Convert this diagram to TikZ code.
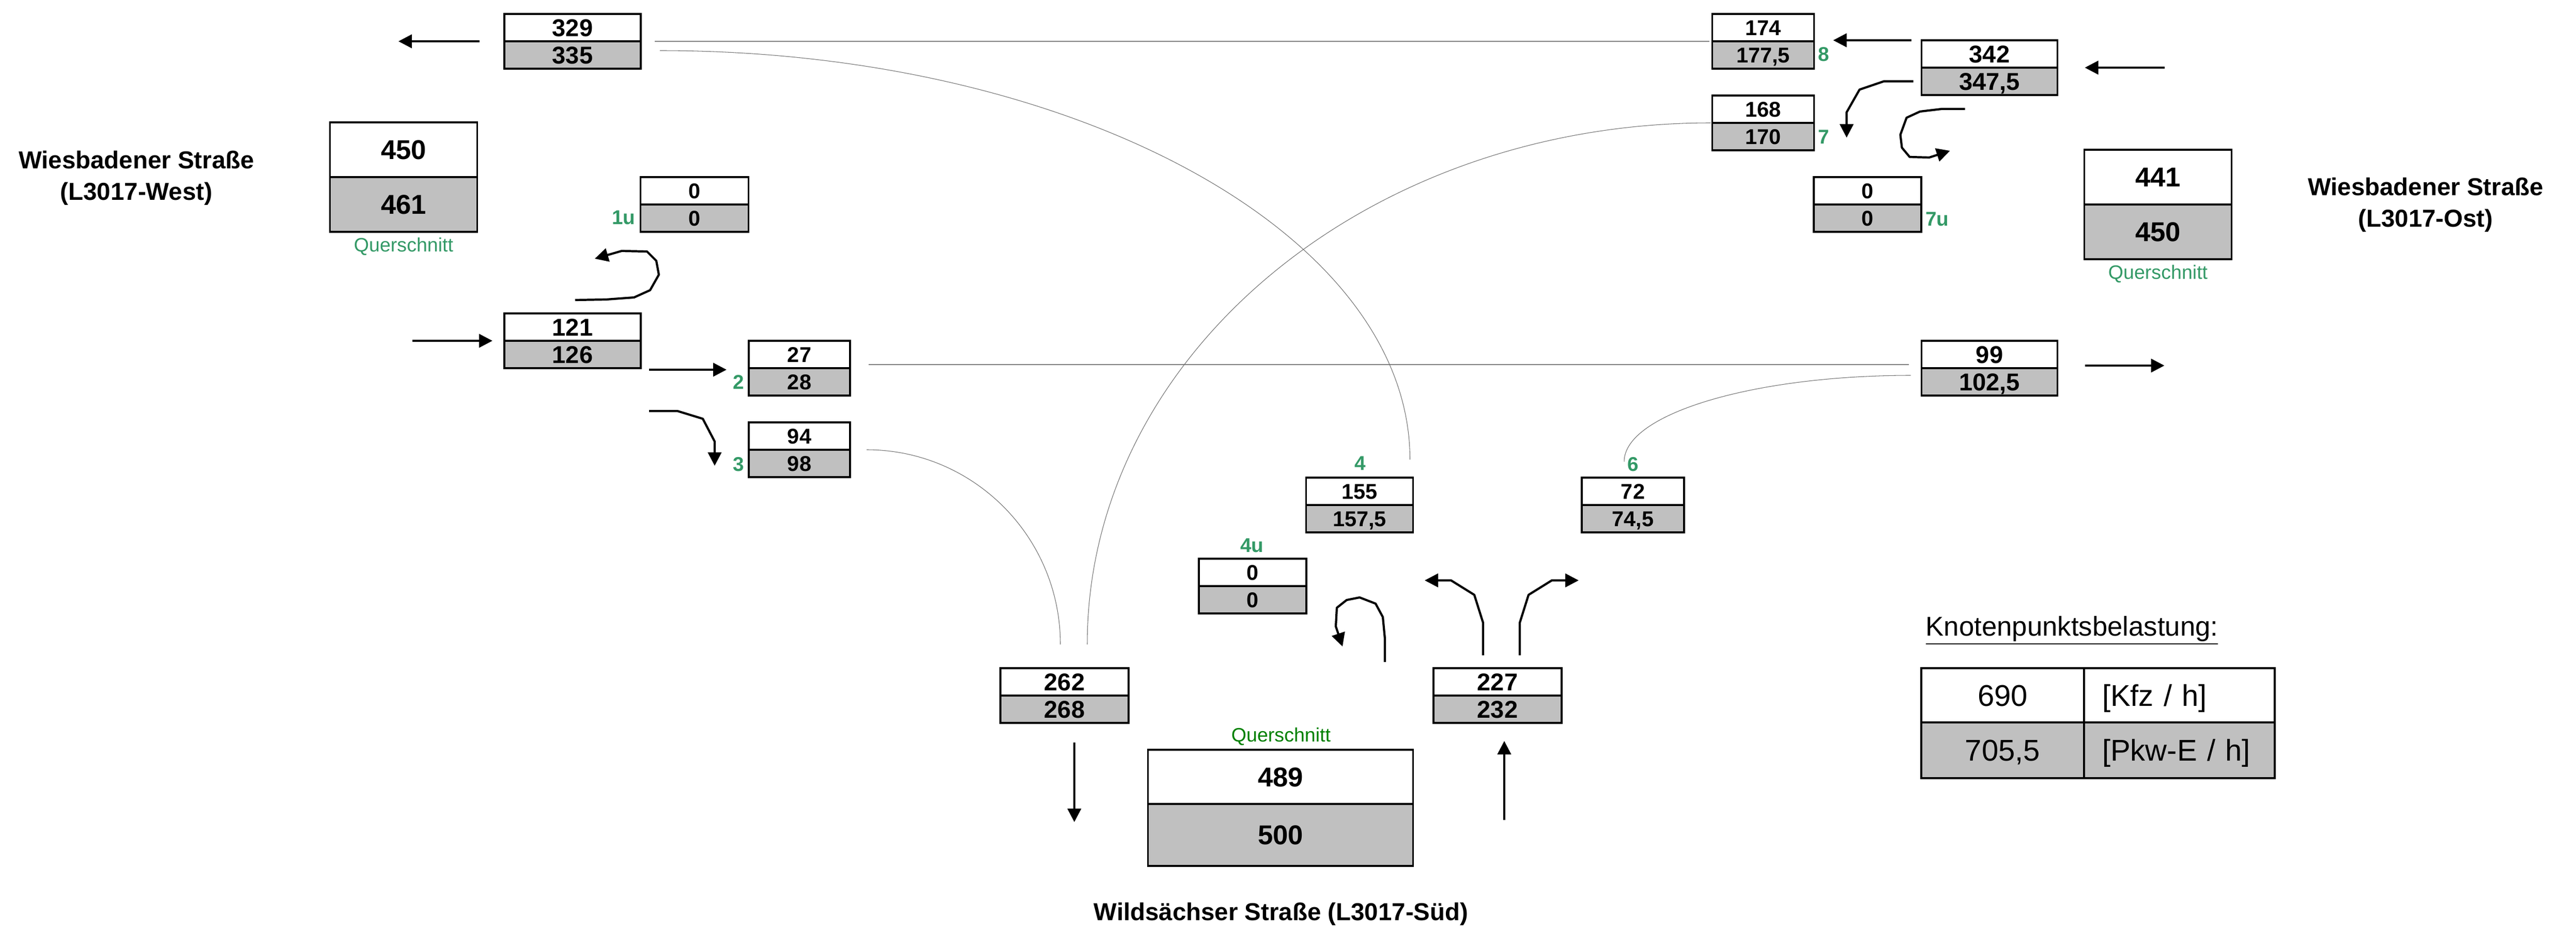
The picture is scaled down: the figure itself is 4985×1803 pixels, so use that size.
\documentclass[tikz,border=0pt]{standalone}
\usepackage{fontspec}
\setmainfont{Liberation Sans}
\usetikzlibrary{positioning,arrows.meta}
\definecolor{kgrau}{HTML}{C0C0C0}
\definecolor{nrgruen}{HTML}{339966}
\definecolor{qgruen}{HTML}{008000}
\definecolor{strichgrau}{HTML}{808080}
\newcommand{\schrift}[1]{\fontsize{#1}{#1}\selectfont}
\tikzset{
  zelle/.style={draw, line width=0.9pt, inner sep=0pt, outer sep=0pt, minimum height=5.3mm, font=\bfseries\schrift{13.4}, text height=9.6pt, text depth=0pt},
  kfz/.style={zelle, fill=white},
  pkw/.style={zelle, fill=kgrau},
  schmal/.style={font=\bfseries\schrift{11.8}, text height=8.4pt},
  gross/.style={minimum height=10.6mm, font=\bfseries\schrift{15}, text height=10.7pt},
  legzelle/.style={draw, line width=0.9pt, inner sep=0pt, outer sep=0pt, font=\schrift{16.5}, text height=11.8pt, text depth=0pt},
  nr/.style={text=nrgruen, font=\bfseries\schrift{11}, inner sep=0pt},
  quer/.style={text=nrgruen, font=\schrift{10.7}, inner sep=0pt},
  strasse/.style={font=\bfseries\fontsize{13.5}{17.3}\selectfont, align=center, inner sep=0pt},
  fahrt/.style={->, line width=1.2pt, line join=round},
  strom/.style={strichgrau, line width=0.57pt},
  bogen/.style={strichgrau!85!black, line width=0.3pt},
  >={Triangle[length=2.6mm,width=2.6mm]}
}
\begin{document}
\begin{tikzpicture}[x=0.1mm,y=-0.1mm]
            \useasboundingbox (0,0) rectangle (4985,1803);
            \node[strasse] (west) at (264,345) {Wiesbadener Straße\\(L3017-West)};
            \node[kfz,gross,minimum width=28.5mm] (qwk) at (781,290) {450};
            \node[pkw,gross,minimum width=28.5mm,below=0pt of qwk] (qwp) {461};
            \node[quer] (qwt) at (781,477) {Querschnitt};
            \node[kfz,minimum width=26.4mm] (wabk) at (1108,53.5) {329};
            \node[pkw,minimum width=26.4mm,below=0pt of wabk] (wabp) {335};
            \node[kfz,minimum width=26.4mm] (wzuk) at (1108,633.5) {121};
            \node[pkw,minimum width=26.4mm,below=0pt of wzuk] (wzup) {126};
            \node[kfz,schmal,minimum width=20.9mm] (s1uk) at (1344,369.5) {0};
            \node[pkw,schmal,minimum width=20.9mm,below=0pt of s1uk] (s1up) {0};
            \node[nr] (n1u) at (1207,421) {1u};
            \node[kfz,schmal,minimum width=19.6mm] (s2k) at (1547,686.5) {27};
            \node[pkw,schmal,minimum width=19.6mm,below=0pt of s2k] (s2p) {28};
            \node[nr] (n2) at (1429,740) {2};
            \node[kfz,schmal,minimum width=19.6mm] (s3k) at (1547,844.5) {94};
            \node[pkw,schmal,minimum width=19.6mm,below=0pt of s3k] (s3p) {98};
            \node[nr] (n3) at (1429,899) {3};
            \node[kfz,schmal,minimum width=19.7mm] (s8k) at (3412,53.5) {174};
            \node[pkw,schmal,minimum width=19.7mm,below=0pt of s8k] (s8p) {177,5};
            \node[nr] (n8) at (3529,105) {8};
            \node[kfz,schmal,minimum width=19.7mm] (s7k) at (3412,211.5) {168};
            \node[pkw,schmal,minimum width=19.7mm,below=0pt of s7k] (s7p) {170};
            \node[nr] (n7) at (3529,265) {7};
            \node[kfz,minimum width=26.3mm] (ozuk) at (3850,104.5) {342};
            \node[pkw,minimum width=26.3mm,below=0pt of ozuk] (ozup) {347,5};
            \node[kfz,schmal,minimum width=20.8mm] (s7uk) at (3614,369.5) {0};
            \node[pkw,schmal,minimum width=20.8mm,below=0pt of s7uk] (s7up) {0};
            \node[nr] (n7u) at (3749,424) {7u};
            \node[kfz,gross,minimum width=28.5mm] (qok) at (4176,343) {441};
            \node[pkw,gross,minimum width=28.5mm,below=0pt of qok] (qop) {450};
            \node[quer] (qot) at (4176,530) {Querschnitt};
            \node[strasse] (ost) at (4694,397) {Wiesbadener Straße\\(L3017-Ost)};
            \node[kfz,minimum width=26.3mm] (oabk) at (3850,686.5) {99};
            \node[pkw,minimum width=26.3mm,below=0pt of oabk] (oabp) {102,5};
            \node[kfz,schmal,minimum width=20.7mm] (s4k) at (2631,951.5) {155};
            \node[pkw,schmal,minimum width=20.7mm,below=0pt of s4k] (s4p) {157,5};
            \node[nr] (n4) at (2632,897) {4};
            \node[kfz,schmal,minimum width=19.8mm] (s6k) at (3160,951.5) {72};
            \node[pkw,schmal,minimum width=19.8mm,below=0pt of s6k] (s6p) {74,5};
            \node[nr] (n6) at (3160,899) {6};
            \node[kfz,schmal,minimum width=20.8mm] (s4uk) at (2424,1108.5) {0};
            \node[pkw,schmal,minimum width=20.8mm,below=0pt of s4uk] (s4up) {0};
            \node[nr] (n4u) at (2423,1056) {4u};
            \node[kfz,minimum width=24.8mm] (sabk) at (2060,1320.5) {262};
            \node[pkw,minimum width=24.8mm,below=0pt of sabk] (sabp) {268};
            \node[kfz,minimum width=24.8mm] (szuk) at (2898,1320.5) {227};
            \node[pkw,minimum width=24.8mm,below=0pt of szuk] (szup) {232};
            \node[quer,text=qgruen] (qst) at (2479,1426) {Querschnitt};
            \node[kfz,gross,minimum width=51.3mm,minimum height=10.5mm] (qsk) at (2478,1504.5) {489};
            \node[pkw,gross,minimum width=51.3mm,minimum height=12mm,below=0pt of qsk] (qsp) {500};
            \node[strasse] (sued) at (2479,1770) {Wildsächser Straße (L3017-Süd)};
            \node[anchor=base west,inner sep=0pt,font=\schrift{15}] (titel) at (3726,1231) {\underline{Knotenpunktsbelastung:}};
            \node[legzelle,fill=white,minimum width=31.5mm,minimum height=10.5mm] (lk1) at (3875.5,1346.5) {690};
            \node[legzelle,fill=white,minimum height=10.5mm,inner xsep=3.5mm,text width=29.9mm,align=left,right=0pt of lk1] (lk2) {[Kfz / h]};
            \node[legzelle,fill=kgrau,minimum width=31.5mm,minimum height=10.8mm,below=0pt of lk1] (lp1) {705,5};
            \node[legzelle,fill=kgrau,minimum height=10.8mm,inner xsep=3.5mm,text width=29.9mm,align=left,below=0pt of lk2] (lp2) {[Pkw-E / h]};
            \draw[strom] ([xshift=2.7mm]wabk.south east) -- ([xshift=-0.6mm]s8k.south west);
            \draw[strom] ([xshift=3.6mm,yshift=0.7mm]s2k.south east) -- ([xshift=-2.5mm,yshift=0.7mm]oabk.south west);
            \draw[bogen] ([xshift=3.7mm,yshift=-1.8mm]wabp.north east) .. controls +(801,0) and +(0,-437) .. ([xshift=-0.6mm,yshift=3.5mm]s4k.north east);
            \draw[bogen] ([xshift=-0.3mm]s7p.north west) .. controls +(-666,0) and +(0,-559) .. ([xshift=4.4mm,yshift=4.6mm]sabk.north);
            \draw[bogen] ([xshift=3.2mm]s3p.north east) .. controls +(207,0) and +(0,-208) .. ([xshift=-0.8mm,yshift=4.6mm]sabk.north);
            \draw[bogen] ([xshift=-1.7mm,yshift=3.1mm]s6k.north) .. controls +(0,-92) and +(-306,0) .. ([xshift=-2.1mm,yshift=-1.4mm]oabp.north west);
            \draw[fahrt] ([xshift=-4.8mm]wabk.south west) -- ++(-157,0);
            \draw[fahrt] ([xshift=-17.8mm]wzuk.south west) -- ++(155,0);
            \draw[fahrt] ([xshift=-19.3mm,yshift=-0.3mm]s2k.south west) -- ++(150,0);
            \draw[fahrt] ([xshift=-19.3mm,yshift=7.5mm]s3k.south west) -- ++(55,0) -- ++(49,15) -- ++(23,44) -- ++(0,47);
            \draw[fahrt] ([xshift=0.5mm,yshift=2.6mm]wzuk.north) -- ++(60,-1) -- ++(54,-4) -- ++(31,-14) -- ++(17,-30) -- ++(-5,-27) -- ++(-18,-18) -- ++(-49,-1) -- ++(-52,15);
            \draw[fahrt] ([xshift=-2mm]ozuk.north west) -- ++(-151,0);
            \draw[fahrt] ([xshift=20.7mm]ozuk.south east) -- ++(-154,0);
            \draw[fahrt] ([xshift=-1.6mm]ozup.west) -- ++(-57,0) -- ++(-47,16) -- ++(-25,44) -- ++(0,49);
            \draw[fahrt] ([xshift=8.4mm,yshift=-2.7mm]ozup.south west) -- ++(-45,0) -- ++(-42,5) -- ++(-26,12) -- ++(-12,33) -- ++(3,25) -- ++(15,18) -- ++(38,1) -- ++(40,-13);
            \draw[fahrt] ([xshift=5.3mm,yshift=0.5mm]oabk.south east) -- ++(154,0);
            \draw[fahrt] ([xshift=1.9mm,yshift=-3.8mm]sabp.south) -- ++(0,154);
            \draw[fahrt] ([xshift=1.3mm,yshift=-18.8mm]szup.south) -- ++(0,-153);
            \draw[fahrt] ([xshift=-9.4mm,yshift=1.2mm]szuk.north west) -- ++(0,-45) -- ++(-4,-42) -- ++(-14,-26) -- ++(-31,-12) -- ++(-25,5) -- ++(-19,15) -- ++(-2,36) -- ++(13,39);
            \draw[fahrt] ([xshift=-2.8mm,yshift=2.5mm]szuk.north) -- ++(0,-63) -- ++(-17,-54) -- ++(-45,-28) -- ++(-51,0);
            \draw[fahrt] ([xshift=4.3mm,yshift=2.5mm]szuk.north) -- ++(0,-63) -- ++(17,-54) -- ++(45,-28) -- ++(52,0);
\end{tikzpicture}
\end{document}
